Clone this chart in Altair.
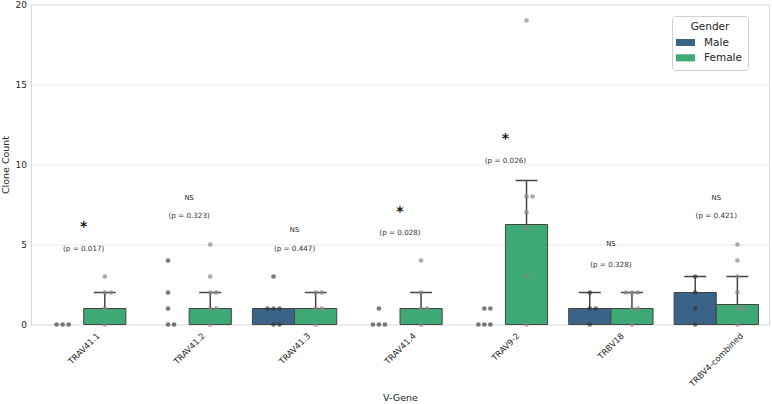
import altair as alt
import pandas as pd

genes = ["TRAV41.1", "TRAV41.2", "TRAV41.3", "TRAV41.4", "TRAV9-2", "TRBV18", "TRBV4-combined"]
genders = ["Male", "Female"]
colors = ["#3a6387", "#3ea975"]

male_mean = [0.0, 0.0, 1.0, 0.0, 0.0, 1.0, 2.0]
female_mean = [1.0, 1.0, 1.0, 1.0, 6.25, 1.0, 1.25]
male_err_top = [None, None, None, None, None, 2.0, 3.0]
female_err_top = [2.0, 2.0, 2.0, 2.0, 9.0, 2.0, 3.0]

male_points = [
    [0, 0, 0],
    [4, 2, 1, 0, 0],
    [3, 1, 1, 1, 0, 0],
    [1, 0, 0, 0],
    [1, 1, 0, 0, 0],
    [2, 1, 1, 0],
    [3, 2, 1, 0],
]
female_points = [
    [3, 2, 2, 1, 0],
    [5, 3, 2, 2, 1, 1, 0],
    [2, 2, 1, 1, 0],
    [4, 2, 1, 1, 0],
    [19, 8, 8, 7, 6, 3, 0],
    [2, 2, 2, 1, 1, 0],
    [5, 4, 3, 2, 1, 1, 0],
]

sig_labels = ["*", "NS", "NS", "*", "*", "NS", "NS"]
sig_y = [6.3, 7.89, 5.9, 7.22, 11.78, 5.03, 7.89]
p_labels = ["(p = 0.017)", "(p = 0.323)", "(p = 0.447)", "(p = 0.028)",
            "(p = 0.026)", "(p = 0.328)", "(p = 0.421)"]
p_y = [4.72, 6.78, 4.7, 5.7, 10.24, 3.72, 6.78]

# layout constants
PLOT_W, PLOT_H = 738, 320
STEP = PLOT_W / len(genes)
BAR_W = 0.4
SIDE = {"Male": -0.2, "Female": 0.2}
CAP = 0.104
JIT = 0.057
JIT_ORDER = [0, 1, -1, 2, -2, 3, -3]
XLAB_SIZE = 8.4

# DejaVu Sans advance widths (units of 1/2048 em) used to centre rotated tick labels
ADV = {"T": 1251, "R": 1423, "A": 1401, "V": 1401, "B": 1405, "4": 1303, "1": 1303,
       "2": 1303, "3": 1303, "8": 1303, "9": 1303, ".": 651, "-": 739, "c": 1126,
       "o": 1253, "m": 1995, "b": 1300, "i": 569, "n": 1298, "e": 1260, "d": 1300}

bars, errs, pts = [], [], []
for i, g in enumerate(genes):
    for gen, means, tops, plist in (("Male", male_mean, male_err_top, male_points),
                                     ("Female", female_mean, female_err_top, female_points)):
        c = i + SIDE[gen]
        bars.append({"gene": g, "Gender": gen, "x": c - BAR_W / 2, "x2": c + BAR_W / 2,
                     "mean": means[i], "base": 0.0})
        if tops[i] is not None:
            errs.append({"gene": g, "Gender": gen, "xc": c, "xl": c - CAP, "xr": c + CAP,
                         "mean": means[i], "top": tops[i]})
        seen = {}
        for v in plist[i]:
            k = seen.get(v, 0)
            seen[v] = k + 1
            pts.append({"gene": g, "Gender": gen, "xp": c + JIT_ORDER[k] * JIT, "value": v})

bars_df = pd.DataFrame(bars)
errs_df = pd.DataFrame(errs)
pts_df = pd.DataFrame(pts)
ann_df = pd.DataFrame({"xi": list(range(len(genes))), "sig": sig_labels, "sig_y": sig_y,
                       "p": p_labels, "p_y": p_y})
ann_df["big"] = ann_df["sig"] == "*"

lab_rows = []
for i, g in enumerate(genes):
    L = sum(ADV[ch] for ch in g) / 2048 * XLAB_SIZE
    shift = 0.7071 * (L - 1.03 * XLAB_SIZE) / 2
    lab_rows.append({"gene": g, "lx": i + shift / STEP})
lab_df = pd.DataFrame(lab_rows)

xscale = alt.Scale(domain=[-0.5, len(genes) - 0.5], nice=False, zero=False)
yscale = alt.Scale(domain=[0, 20], nice=False)

x_axis = alt.Axis(values=list(range(len(genes))), labels=False, ticks=False,
                  grid=False, domain=False, title="V-Gene",
                  titleFontSize=9.5, titleFontWeight="normal", titleColor="#262626", titlePadding=68)
y_axis = alt.Axis(values=[0, 5, 10, 15, 20], labelFontSize=9, labelColor="#262626", tickSize=0,
                  labelPadding=4.5, domain=False, gridColor="#ebebeb", title="Clone Count",
                  titleFontSize=9.5, titleFontWeight="normal", titleColor="#262626", titlePadding=5)

bar_layer = alt.Chart(bars_df).transform_filter(alt.datum.mean > 0).mark_bar(
    stroke="#444444", strokeWidth=1).encode(
    x=alt.X("x:Q", scale=xscale, axis=x_axis),
    x2="x2:Q",
    y=alt.Y("mean:Q", scale=yscale, axis=y_axis),
    y2="base:Q",
    color=alt.Color("Gender:N", scale=alt.Scale(domain=genders, range=colors),
                    legend=alt.Legend(title="Gender", orient="none", legendX=641, legendY=11.5,
                                      titleAnchor="middle", titleFontSize=10.5, titleFontWeight="normal",
                                      titleColor="#262626", labelFontSize=10.5, labelColor="#262626",
                                      symbolType="M-1.27,-0.47H1.27V0.47H-1.27Z", symbolSize=225,
                                      symbolStrokeWidth=0, symbolOpacity=1, labelOffset=11,
                                      fillColor="white", strokeColor="#d0d0d0", cornerRadius=3,
                                      padding=6, rowPadding=2.3, titlePadding=2.5)),
)

err_rule = alt.Chart(errs_df).mark_rule(color="#444444", strokeWidth=1.5).encode(
    x="xc:Q", y="mean:Q", y2="top:Q")
err_cap = alt.Chart(errs_df).mark_rule(color="#444444", strokeWidth=1.5).encode(
    x="xl:Q", x2="xr:Q", y="top:Q")

male_pts = alt.Chart(pts_df).transform_filter(alt.datum.Gender == "Male").mark_circle(
    size=22, color="#333333", opacity=0.65).encode(x="xp:Q", y="value:Q")
female_pts = alt.Chart(pts_df).transform_filter(alt.datum.Gender == "Female").mark_circle(
    size=22, color="#888888", opacity=0.7).encode(x="xp:Q", y="value:Q")

sig_star = alt.Chart(ann_df).transform_filter(alt.datum.big).mark_text(
    fontSize=14, fontWeight="bold", color="#111111", baseline="middle", dy=3,
    font="DejaVu Sans").encode(x="xi:Q", y="sig_y:Q", text="sig:N")
sig_ns = alt.Chart(ann_df).transform_filter(~alt.datum.big).mark_text(
    fontSize=6.8, color="#222222", baseline="middle", font="DejaVu Sans").encode(
    x="xi:Q", y="sig_y:Q", text="sig:N")
p_text = alt.Chart(ann_df).mark_text(fontSize=7.2, color="#333333", baseline="middle",
                                     font="DejaVu Sans").encode(
    x="xi:Q", y="p_y:Q", text="p:N")

x_labels = alt.Chart(lab_df).mark_text(fontSize=XLAB_SIZE, color="#262626", align="right",
                                       baseline="top", angle=315, font="DejaVu Sans").encode(
    x="lx:Q", y=alt.value(PLOT_H + 7), text="gene:N")

chart = alt.layer(bar_layer, err_rule, err_cap, male_pts, female_pts, sig_star, sig_ns, p_text,
                  x_labels).properties(
    width=PLOT_W, height=PLOT_H,
    autosize=alt.AutoSizeParams(type="none"),
    padding={"left": 31, "top": 4.5, "right": 3, "bottom": 79.5},
    background="white",
).configure(font="DejaVu Sans").configure_view(stroke="#d9d9d9", strokeWidth=1)

chart.save("out.html", embed_options={"renderer": "svg", "actions": False})
